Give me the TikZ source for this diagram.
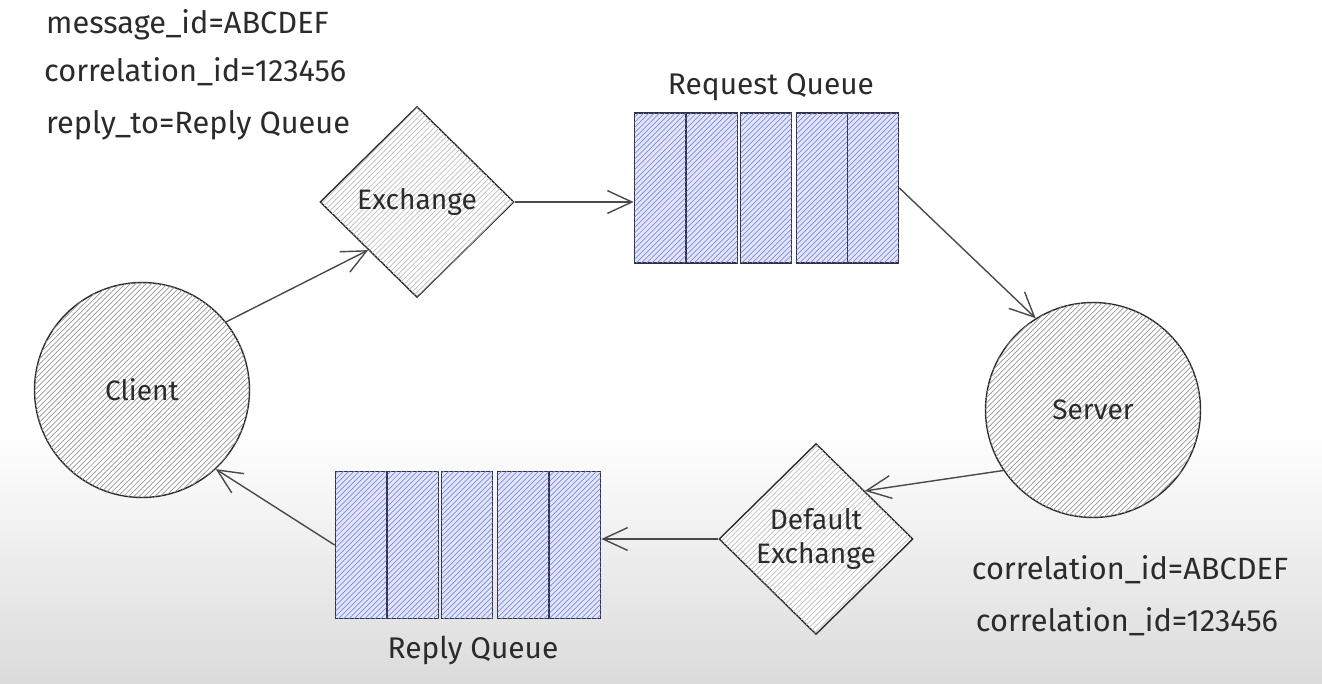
\documentclass[tikz,border=0pt]{standalone}
\usepackage{fontspec}
\setmainfont{Fira Sans}
\usetikzlibrary{positioning,shapes.geometric,patterns,arrows.meta}
\definecolor{inkgray}{HTML}{2B2B2B}
\definecolor{linkgray}{HTML}{4A4A4A}
\definecolor{cellline}{HTML}{2E3244}
\definecolor{cellfill}{HTML}{E2E5FB}
\definecolor{cellhatch}{HTML}{7F8BD8}

\begin{document}
\begin{tikzpicture}[
            x=0.02cm, y=-0.02cm,
            every node/.style={font=\fontsize{16}{19}\selectfont, text=inkgray},
            proc/.style={circle, draw=inkgray, line width=0.8pt, minimum size=4.3cm, fill=white, postaction={pattern=north east lines, pattern color=black!40}},
            exch/.style={diamond, aspect=1, draw=inkgray, line width=0.8pt, minimum width=3.88cm, minimum height=3.82cm, inner sep=0pt, align=center, fill=white, postaction={pattern=north east lines, pattern color=black!25}},
            cell/.style={rectangle, draw=cellline, line width=1pt, minimum width=1.02cm, minimum height=3cm, inner sep=0pt, fill=cellfill, postaction={pattern=north east lines, pattern color=cellhatch}},
            note/.style={font=\fontsize{17.5}{21}\selectfont},
            caption/.style={font=\fontsize{17}{20}\selectfont},
            link/.style={draw=linkgray, line width=0.8pt, -{Straight Barb[length=14pt, width=13pt]}}
        ]
        \useasboundingbox (0,0) rectangle (1322,683);
        % Background
        \fill[white] (0,0) rectangle (1322,683);
        \shade[top color=white, bottom color=black!14] (0,430) rectangle (1322,683);

        % Message properties
        \node[note, anchor=west] (msgid) at (40,25) {message\_id=ABCDEF};
        \node[note, anchor=west] (corrid) at (38,72) {correlation\_id=123456};
        \node[note, anchor=west] (replyto) at (40,125) {reply\_to=Reply Queue};

        % Client and server
        \node[proc] (client) at (142,390) {Client};
        \node[proc] (server) at (1093,410) {Server};

        % Exchanges
        \node[exch] (exchange) at (417,202) {Exchange};
        \node[exch] (defexch) at (816,539) {Default\\Exchange};

        % Request queue
        \node[cell] (rq1) at (660,188) {};
        \node[cell] (rq2) at (712,188) {};
        \node[cell] (rq3) at (766,188) {};
        \node[cell] (rq4) at (822,188) {};
        \node[cell] (rq5) at (873,188) {};
        \node[caption] (rqlabel) at (771,87) {Request Queue};

        % Reply queue
        \node[cell, minimum height=2.94cm] (pq1) at (361,545) {};
        \node[cell, minimum height=2.94cm] (pq2) at (413,545) {};
        \node[cell, minimum height=2.94cm] (pq3) at (467,545) {};
        \node[cell, minimum height=2.94cm] (pq4) at (523,545) {};
        \node[cell, minimum height=2.94cm] (pq5) at (575,545) {};
        \node[caption] (pqlabel) at (473,650) {Reply Queue};

        % Reply properties
        \node[note] (resabc) at (1130,570) {correlation\_id=ABCDEF};
        \node[note] (res123) at (1127,622) {correlation\_id=123456};

        \draw[link] (client.39) -- (exchange.south west);
        \draw[link] (exchange.east) -- (exchange.east -| rq1.west);
        \draw[link] (rq5.east) -- (server.122);
        \draw[link] (server.214) -- (defexch.north east);
        \draw[link] (defexch.west) -- (defexch.west -| pq5.east);
        \draw[link] (pq1.west) -- (client.-47);

    \end{tikzpicture}
\end{document}
